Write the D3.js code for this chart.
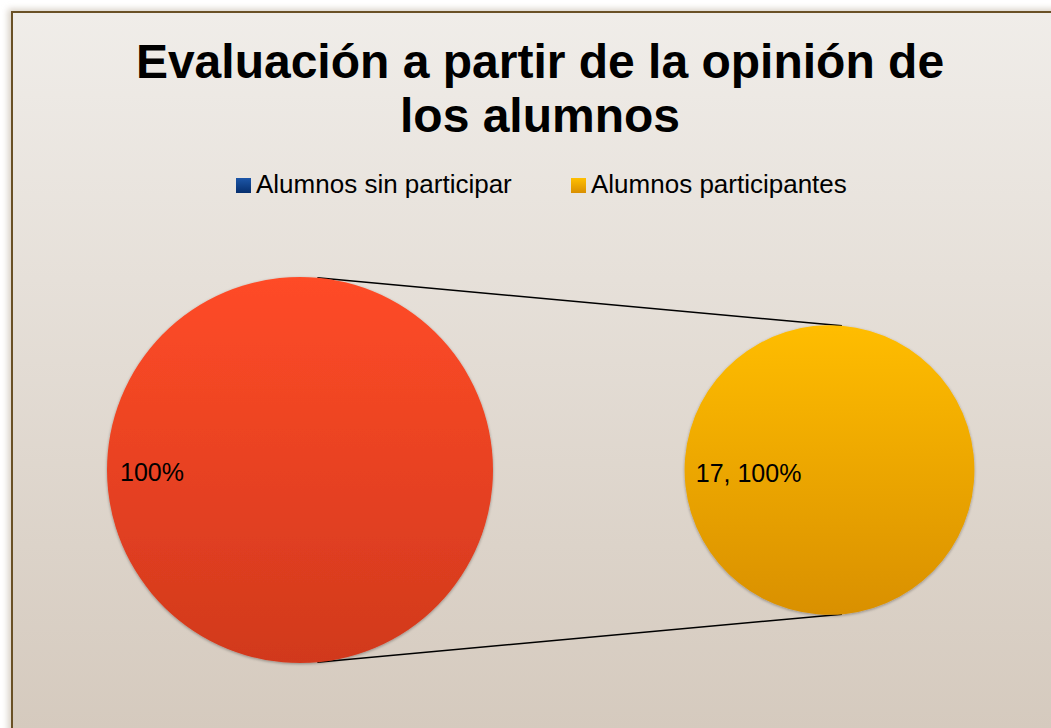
<!DOCTYPE html>
<html>
<head>
<meta charset="utf-8">
<script src="https://cdn.jsdelivr.net/npm/d3@7"></script>
<style>
  body { margin: 0; background: #fff; }
  svg { display: block; }
</style>
</head>
<body>
<div id="chart"></div>
<script>
(function() {
    // Data
    var categories = ["Alumnos sin participar", "Alumnos participantes"];
    var values = [0, 17];
    var titleLines = ["Evaluación a partir de la opinión de", "los alumnos"];

    // Main pie: first category + combined "other" slice (secondary pie items)
    var secondaryIdx = [1];
    var otherTotal = d3.sum(secondaryIdx, function(i) { return values[i]; });
    var mainData = [values[0], otherTotal];
    var secondaryData = secondaryIdx.map(function(i) { return values[i]; });

    var width = 1051, height = 728;

    var svg = d3.select("#chart").append("svg")
        .attr("width", width)
        .attr("height", height);

    var defs = svg.append("defs");

    function vGrad(id, top, bottom) {
        var g = defs.append("linearGradient").attr("id", id)
            .attr("x1", 0).attr("y1", 0).attr("x2", 0).attr("y2", 1);
        g.append("stop").attr("offset", "0%").attr("stop-color", top);
        g.append("stop").attr("offset", "100%").attr("stop-color", bottom);
    }
    vGrad("bg", "#f0ede9", "#d2c6b9");
    vGrad("red", "#ff4b27", "#d1391d");
    vGrad("gold", "#ffbd00", "#d99000");
    vGrad("blue", "#1c56a8", "#062f6e");
    vGrad("legGold", "#ffbf00", "#d98f00");

    var shadow = defs.append("filter").attr("id", "shadow")
        .attr("x", "-10%").attr("y", "-10%").attr("width", "120%").attr("height", "120%");
    shadow.append("feGaussianBlur").attr("in", "SourceAlpha").attr("stdDeviation", 1.5).attr("result", "b");
    shadow.append("feOffset").attr("in", "b").attr("dx", 0).attr("dy", 1).attr("result", "o");
    shadow.append("feComponentTransfer").attr("in", "o").attr("result", "s")
        .append("feFuncA").attr("type", "linear").attr("slope", 0.35);
    var merge = shadow.append("feMerge");
    merge.append("feMergeNode").attr("in", "s");
    merge.append("feMergeNode").attr("in", "SourceGraphic");

    var frameShadow = defs.append("filter").attr("id", "frameShadow")
        .attr("x", "-5%").attr("y", "-5%").attr("width", "110%").attr("height", "110%");
    frameShadow.append("feGaussianBlur").attr("stdDeviation", 3);

    // Chart frame (extends past the right and bottom edge)
    svg.append("rect")
        .attr("x", 8).attr("y", 9).attr("width", 1100).attr("height", 800)
        .attr("fill", "#d8d0c6").attr("filter", "url(#frameShadow)");
    svg.append("rect")
        .attr("x", 12).attr("y", 12).attr("width", 1100).attr("height", 800)
        .attr("fill", "url(#bg)")
        .attr("stroke", "#6a5126").attr("stroke-width", 2);

    // Title
    svg.append("text")
        .attr("x", 540)
        .attr("y", 78)
        .attr("text-anchor", "middle")
        .attr("font-family", "Liberation Sans, Arial, sans-serif")
        .attr("font-weight", "bold")
        .attr("font-size", "48px")
        .attr("fill", "#000")
        .selectAll("tspan")
        .data(titleLines)
        .enter().append("tspan")
        .attr("x", 540)
        .attr("dy", function(d, i) { return i === 0 ? 0 : 54; })
        .text(function(d) { return d; });

    // Legend
    var legendColors = ["url(#blue)", "url(#legGold)"];
    var legendX = d3.scaleOrdinal().domain(categories).range([236, 571]);
    var legend = svg.append("g").selectAll("g")
        .data(categories)
        .enter().append("g")
        .attr("transform", function(d) { return "translate(" + legendX(d) + ",178)"; });
    legend.append("rect")
        .attr("width", 15).attr("height", 15)
        .attr("fill", function(d, i) { return legendColors[i]; });
    legend.append("text")
        .attr("x", 20).attr("y", 15)
        .attr("font-family", "Liberation Sans, Arial, sans-serif")
        .attr("font-size", "26px")
        .attr("fill", "#000")
        .text(function(d) { return d; });

    // Pie geometry
    var cy = 470;
    var mainR = 193, secR = mainR * 0.75;
    var cx = d3.scalePoint().domain(["main", "secondary"]).range([300, 829.5]);

    var pie = d3.pie().sort(null).startAngle(0.09).endAngle(0.09 + 2 * Math.PI);
    var mainArcs = pie(mainData);
    var secArcs = d3.pie().sort(null).startAngle(0.086).endAngle(0.086 + 2 * Math.PI)(secondaryData);

    var mainArc = d3.arc().innerRadius(0).outerRadius(mainR);
    var secArc = d3.arc().innerRadius(0).outerRadius(secR);

    var mainColors = ["url(#blue)", "url(#red)"];

    // Connector lines between the "other" slice and the secondary pie
    var otherSlice = mainArcs[1];
    var secFirst = secArcs[0];
    function pt(c, r, a) { return [c[0] + r * Math.sin(a), c[1] - r * Math.cos(a)]; }
    var mainC = [cx("main"), cy], secC = [cx("secondary"), cy];
    var top1 = pt(mainC, mainR, otherSlice.startAngle);
    var top2 = pt(secC, secR, secFirst.startAngle);
    var bot1 = pt(mainC, mainR, Math.PI - (otherSlice.startAngle));
    var bot2 = pt(secC, secR, Math.PI - secFirst.startAngle);
    var line = d3.line();
    svg.append("path").attr("d", line([top1, top2]))
        .attr("stroke", "#000").attr("stroke-width", 1.5).attr("fill", "none");
    svg.append("path").attr("d", line([bot1, bot2]))
        .attr("stroke", "#000").attr("stroke-width", 1.5).attr("fill", "none");

    // Main pie
    svg.append("g")
        .attr("transform", "translate(" + mainC[0] + "," + cy + ")")
        .selectAll("path")
        .data(mainArcs.filter(function(d) { return d.value > 0; }))
        .enter().append("path")
        .attr("d", mainArc)
        .attr("fill", function(d) { return mainColors[d.index]; })
        .attr("filter", "url(#shadow)");

    // Secondary pie
    svg.append("g")
        .attr("transform", "translate(" + secC[0] + "," + cy + ")")
        .selectAll("path")
        .data(secArcs.filter(function(d) { return d.value > 0; }))
        .enter().append("path")
        .attr("d", secArc)
        .attr("fill", "url(#gold)")
        .attr("filter", "url(#shadow)");

    // Data labels
    var pct = d3.format(".0%");
    var mainTotal = d3.sum(mainData);
    var secTotal = d3.sum(secondaryData);
    svg.append("text")
        .attr("x", mainC[0] - mainR + 13)
        .attr("y", cy + 11)
        .attr("font-family", "Liberation Sans, Arial, sans-serif")
        .attr("font-size", "25px")
        .attr("fill", "#000")
        .text(pct(otherSlice.value / mainTotal));
    svg.append("text")
        .attr("x", secC[0] - secR + 11)
        .attr("y", cy + 12)
        .attr("font-family", "Liberation Sans, Arial, sans-serif")
        .attr("font-size", "25px")
        .attr("fill", "#000")
        .text(secFirst.value + ", " + pct(secFirst.value / secTotal));
})();
</script>
</body>
</html>
